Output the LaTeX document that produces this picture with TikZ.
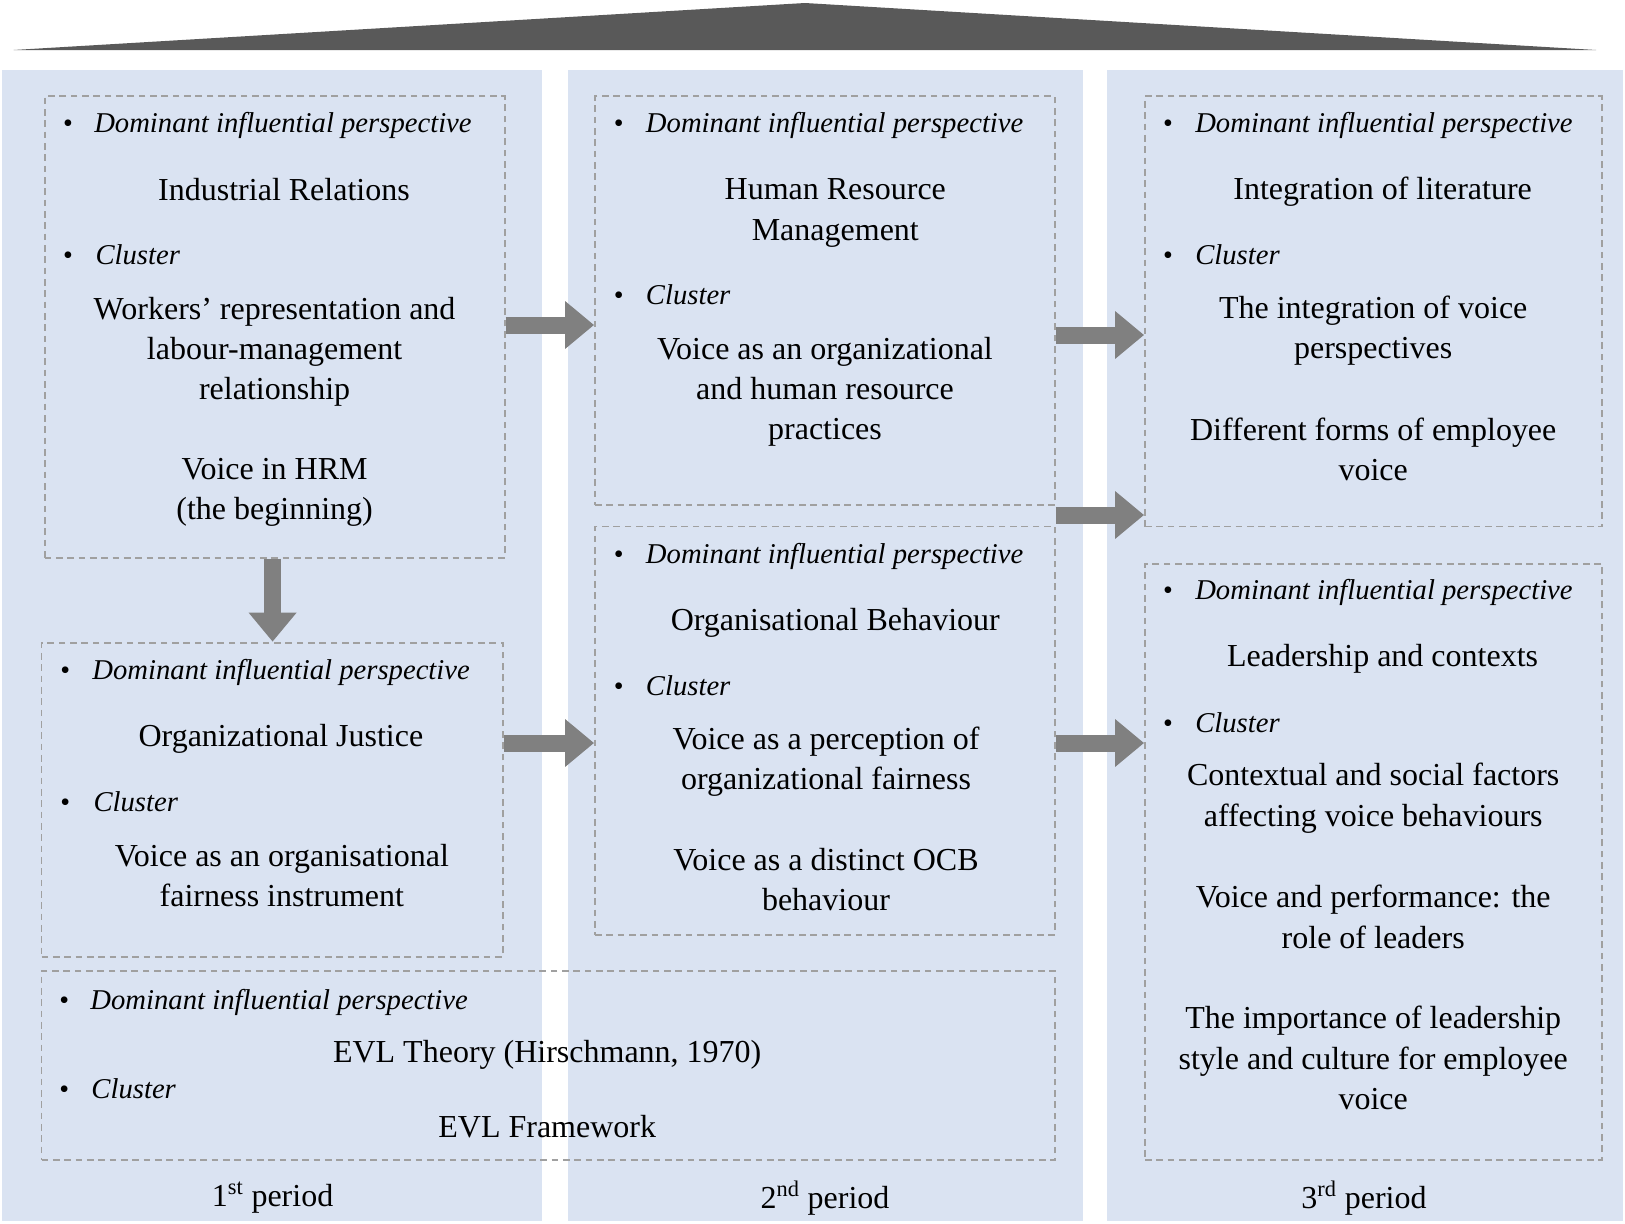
\documentclass[tikz,border=0pt]{standalone}
\usepackage{fontspec}
\setmainfont{Liberation Serif}
\usetikzlibrary{arrows.meta,fit}
\definecolor{colbg}{RGB}{218,227,242}
\definecolor{dashc}{RGB}{160,160,160}
\definecolor{arrc}{RGB}{128,128,128}
\definecolor{tri}{RGB}{89,89,89}
\begin{document}
\begin{tikzpicture}[x=0.75pt,y=-0.75pt,
  dbox/.style={draw=dashc, line width=1.4pt, dash pattern=on 5pt off 3.5pt, inner sep=0pt},
  body/.style={font=\fontsize{24}{30.2}\selectfont, align=center, inner sep=0pt},
  lab/.style={font=\fontsize{21.5}{25}\selectfont\itshape, anchor=base west, inner sep=0pt},
  bul/.style={font=\fontsize{21}{25}\selectfont, anchor=base, inner sep=0pt},
  bigarrow/.style={draw=arrc, line width=12.75pt, -{Triangle[width=34.5pt,length=21.75pt]}}
]
\useasboundingbox (0,0) rectangle (1625,1224);
% top triangle
\fill[tri] (13.5,50) -- (805,3) -- (1596,50) -- cycle;
% period columns
\fill[colbg] (2,70) rectangle (542,1221);
\fill[colbg] (568,70) rectangle (1083,1221);
\fill[colbg] (1107,70) rectangle (1623,1221);
% dashed boxes
\node[dbox, fit={(44.6,96.4) (504.7,557.6)}] (A) {};
\node[dbox, fit={(41.5,642.6) (502.7,956.6)}] (B) {};
\node[dbox, fit={(41.5,971) (1055,1159.8)}] (C) {};
\node[dbox, fit={(595,96.4) (1055,504.7)}] (D) {};
\node[dbox, fit={(595,526.5) (1055,934.8)}] (E) {};
\node[dbox, fit={(1145,96.4) (1602,526.5)}] (F) {};
\node[dbox, fit={(1145,563.8) (1602,1159.8)}] (G) {};
% connectors
\coordinate (y325) at (0,325);
\coordinate (y335) at (0,335);
\coordinate (y515) at (0,515);
\coordinate (y743) at (0,743);
\coordinate (x272) at (272.6,0);
\draw[bigarrow] (A.east |- y325) -- (D.west |- y325);
\draw[bigarrow] (B.east |- y743) -- (E.west |- y743);
\draw[bigarrow] (D.east |- y335) -- (F.west |- y335);
\draw[bigarrow] (D.east |- y515) -- (F.west |- y515);
\draw[bigarrow] (E.east |- y743) -- (G.west |- y743);
\draw[bigarrow] (A.south -| x272) -- (B.north -| x272);
% Box A
\node[bul] (a1) at (68,132.3) {•};
\node[lab] (a2) at (94,132.3) {Dominant influential perspective};
\node[body] (a3) at (284,189.5) {Industrial Relations};
\node[bul] (a4) at (68,264) {•};
\node[lab] (a5) at (95.3,264) {Cluster};
\node[body] (a6) at (274.6,352) {Workers’ representation and\\labour-management\\relationship};
\node[body] (a7) at (274.6,492) {Voice in HRM\\(the beginning)};
% Box D
\node[bul] (d1) at (618.7,132.3) {•};
\node[lab] (d2) at (645.7,132.3) {Dominant influential perspective};
\node[body] (d3) at (835.3,213) {Human Resource\\Management};
\node[bul] (d4) at (618.7,304.3) {•};
\node[lab] (d5) at (645.7,304.3) {Cluster};
\node[body] (d6) at (825,392) {Voice as an organizational\\and human resource\\practices};
% Box F
\node[bul] (f1) at (1168,132.3) {•};
\node[lab] (f2) at (1195,132.3) {Dominant influential perspective};
\node[body] (f3) at (1382.6,191.5) {Integration of literature};
\node[bul] (f4) at (1168,264) {•};
\node[lab] (f5) at (1195,264) {Cluster};
\node[body] (f6) at (1373.2,331) {The integration of voice\\perspectives};
\node[body] (f7) at (1373.2,449.5) {Different forms of employee\\voice};
% Box E
\node[bul] (e1) at (618.7,563.4) {•};
\node[lab] (e2) at (645.7,563.4) {Dominant influential perspective};
\node[body] (e3) at (835.3,622.8) {Organisational Behaviour};
\node[bul] (e4) at (618.7,695) {•};
\node[lab] (e5) at (645.7,695) {Cluster};
\node[body] (e6) at (826,761.5) {Voice as a perception of\\organizational fairness};
\node[body] (e7) at (826,879.5) {Voice as a distinct OCB\\behaviour};
% Box B
\node[bul] (b1) at (65.3,679.5) {•};
\node[lab] (b2) at (92.2,679.5) {Dominant influential perspective};
\node[body] (b3) at (280.9,738.8) {Organizational Justice};
\node[bul] (b4) at (65.3,811.1) {•};
\node[lab] (b5) at (93.3,811.1) {Cluster};
\node[body] (b6) at (281.9,875.5) {Voice as an organisational\\fairness instrument};
% Box G
\node[bul] (g1) at (1168,599.7) {•};
\node[lab] (g2) at (1195,599.7) {Dominant influential perspective};
\node[body] (g3) at (1382.6,659) {Leadership and contexts};
\node[bul] (g4) at (1168,732.4) {•};
\node[lab] (g5) at (1195,732.4) {Cluster};
\node[body] (g6) at (1373.2,798.3) {Contextual and social factors\\affecting voice behaviours};
\node[body] (g7) at (1373.2,917) {Voice and performance: the\\role of leaders};
\node[body] (g8) at (1373.2,1058) {The importance of leadership\\style and culture for employee\\voice};
% Box C
\node[bul] (c1) at (64.3,1009.1) {•};
\node[lab] (c2) at (90.2,1009.1) {Dominant influential perspective};
\node[body] (c3) at (547.2,1055) {EVL Theory (Hirschmann, 1970)};
\node[bul] (c4) at (64.3,1098.2) {•};
\node[lab] (c5) at (91.2,1098.2) {Cluster};
\node[body] (c6) at (547.2,1126.5) {EVL Framework};
% period labels
\node[body] (p1) at (272.6,1198) {1\textsuperscript{st} period};
\node[body] (p2) at (825,1198) {2\textsuperscript{nd} period};
\node[body] (p3) at (1364,1198) {3\textsuperscript{rd} period};
\end{tikzpicture}
\end{document}
